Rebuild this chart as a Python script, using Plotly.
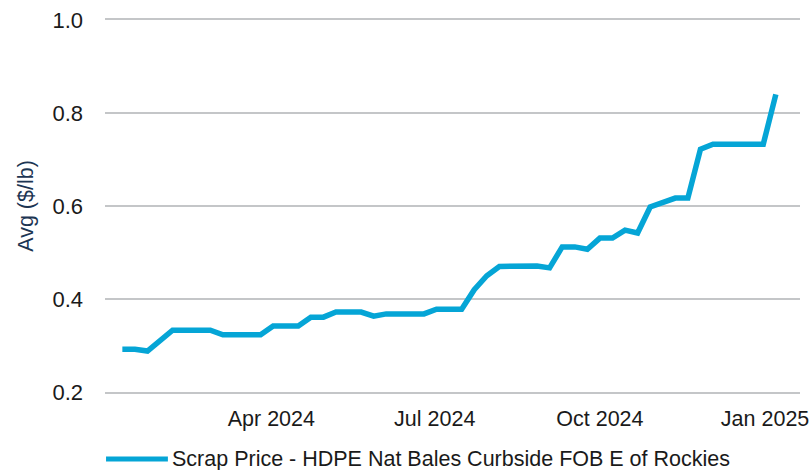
import plotly.graph_objects as go

series_name = "Scrap Price - HDPE Nat Bales Curbside FOB E of Rockies"
dates = [
    "2024-01-09", "2024-01-16", "2024-01-23", "2024-01-30",
    "2024-02-06", "2024-02-13", "2024-02-20", "2024-02-27",
    "2024-03-05", "2024-03-12", "2024-03-19", "2024-03-26",
    "2024-04-02", "2024-04-09", "2024-04-16", "2024-04-23", "2024-04-30",
    "2024-05-07", "2024-05-14", "2024-05-21", "2024-05-28",
    "2024-06-04", "2024-06-11", "2024-06-18", "2024-06-25",
    "2024-07-02", "2024-07-09", "2024-07-16", "2024-07-23", "2024-07-30",
    "2024-08-06", "2024-08-13", "2024-08-20", "2024-08-27",
    "2024-09-03", "2024-09-10", "2024-09-17", "2024-09-24",
    "2024-10-01", "2024-10-08", "2024-10-15", "2024-10-22", "2024-10-29",
    "2024-11-05", "2024-11-12", "2024-11-19", "2024-11-26",
    "2024-12-03", "2024-12-10", "2024-12-17", "2024-12-24", "2024-12-31",
    "2025-01-07",
]
prices = [
    0.292, 0.292, 0.288, 0.310,
    0.333, 0.333, 0.333, 0.333,
    0.323, 0.323, 0.323, 0.323,
    0.342, 0.342, 0.342, 0.361, 0.361,
    0.372, 0.372, 0.372, 0.363,
    0.368, 0.368, 0.368, 0.368,
    0.378, 0.378, 0.378, 0.420, 0.450,
    0.470, 0.471, 0.471, 0.471,
    0.467, 0.512, 0.512, 0.507,
    0.531, 0.531, 0.548, 0.542, 0.598,
    0.607, 0.617, 0.617, 0.722,
    0.733, 0.733, 0.733, 0.733, 0.733,
    0.840,
]
x_tick_vals = ["2024-04-01", "2024-07-01", "2024-10-01", "2025-01-01"]
x_tick_text = ["Apr 2024", "Jul 2024", "Oct 2024", "Jan 2025"]
y_tick_vals = [0.2, 0.4, 0.6, 0.8, 1.0]
y_tick_text = ["0.2", "0.4", "0.6", "0.8", "1.0"]

LINE_COLOR = "#05a5d6"
GRID_COLOR = "#c4c6c8"
FONT = "Liberation Sans, Arial, sans-serif"

fig = go.Figure()
fig.add_trace(go.Scatter(
    x=dates, y=prices, mode="lines", name=series_name,
    line=dict(color=LINE_COLOR, width=5.5),
    showlegend=False,
))

# manual legend (long swatch like the reference)
fig.add_shape(type="line", xref="paper", yref="paper",
              x0=0.0015, x1=0.0905, y0=-0.180, y1=-0.180,
              line=dict(color=LINE_COLOR, width=5))
fig.add_annotation(xref="paper", yref="paper", x=0.093, y=-0.180,
                   text=series_name, showarrow=False,
                   xanchor="left", yanchor="middle",
                   font=dict(family=FONT, size=21.5, color="#1a1a1a"))

fig.update_layout(
    width=809, height=470,
    margin=dict(l=105, r=9, t=20, b=78),
    paper_bgcolor="white", plot_bgcolor="white",
    font=dict(family=FONT, size=21, color="#1a1a1a"),
)
fig.update_xaxes(
    range=["2023-12-30 08:00", "2025-01-20 11:00"],
    tickvals=x_tick_vals, ticktext=x_tick_text,
    showgrid=False, zeroline=False,
    showline=True, mirror=True, linecolor=GRID_COLOR, linewidth=1.5,
    ticks="", ticklabelstandoff=6, ticklabeloverflow="allow",
    tickfont=dict(family=FONT, size=21.5, color="#1a1a1a"),
    automargin=False,
)
fig.update_yaxes(
    range=[0.2, 1.0],
    tickvals=y_tick_vals, ticktext=y_tick_text,
    showgrid=True, gridcolor=GRID_COLOR, gridwidth=1.5,
    zeroline=False, showline=False,
    ticks="", ticklabelstandoff=21,
    tickfont=dict(family=FONT, size=22, color="#1a1a1a"),
    title=dict(text="Avg ($/lb)", font=dict(family=FONT, size=21.5, color="#1c3553"), standoff=12),
    automargin=False,
)

fig.write_html("out.html", config={"displayModeBar": False},
               post_script="document.body.style.margin='0px';document.body.style.overflow='hidden';")
